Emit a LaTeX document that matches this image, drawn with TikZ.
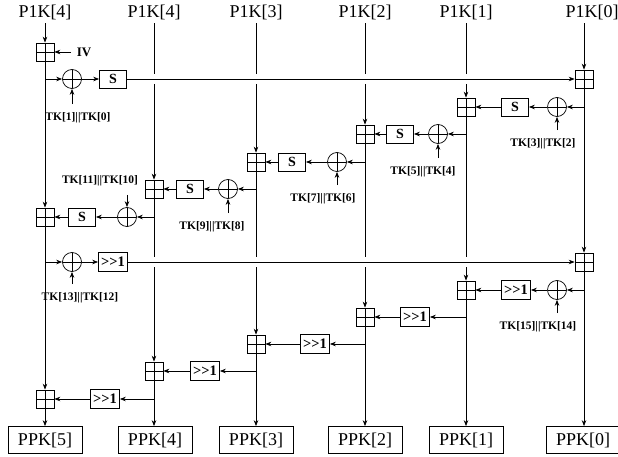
\documentclass[tikz,border=0pt]{standalone}
\usepackage{fontspec}
\setmainfont{Liberation Serif}
\usetikzlibrary{arrows.meta}

\tikzset{
  adder/.style={draw, minimum size=18pt, inner sep=0pt,
    path picture={\draw (path picture bounding box.north) -- (path picture bounding box.south)
      (path picture bounding box.west) -- (path picture bounding box.east);}},
  xorop/.style={adder, circle, minimum size=19pt},
  sbox/.style={draw, minimum width=27pt, minimum height=18pt, inner sep=1pt,
    font=\bfseries\fontsize{14}{14}\selectfont},
  shbox/.style={draw, minimum width=29pt, minimum height=19pt, inner sep=0.5pt,
    font=\bfseries\fontsize{14.5}{14.5}\selectfont},
  tklabel/.style={font=\bfseries\fontsize{11.5}{11.5}\selectfont},
  keylabel/.style={font=\fontsize{18}{18}\selectfont},
  outbox/.style={draw, minimum width=74pt, minimum height=27pt, inner sep=1pt,
    font=\fontsize{18}{18}\selectfont},
}

\begin{document}
\begin{tikzpicture}[x=1pt, y={(0pt,-1pt)}, line width=0.7pt, >={Stealth[length=6pt,width=4.5pt]}]
\useasboundingbox (0,0) rectangle (618,457);

\node[keylabel] (k0) at (45,12) {P1K[4]};
\node[keylabel] (k1) at (154,12) {P1K[4]};
\node[keylabel] (k2) at (256,12) {P1K[3]};
\node[keylabel] (k3) at (365,12) {P1K[2]};
\node[keylabel] (k4) at (466,12) {P1K[1]};
\node[keylabel] (k5) at (592,12) {P1K[0]};

\node[adder] (a1) at (45,52) {};
\node[adder] (a2) at (584,79) {};
\node[adder] (a3) at (466,107) {};
\node[adder] (a4) at (365,134) {};
\node[adder] (a5) at (256,162) {};
\node[adder] (a6) at (154,189) {};
\node[adder] (a7) at (45,217) {};
\node[adder] (a8) at (584,262) {};
\node[adder] (a9) at (466,290) {};
\node[adder] (a10) at (365,317) {};
\node[adder] (a11) at (256,344) {};
\node[adder] (a12) at (154,371) {};
\node[adder] (a13) at (45,399) {};

\node[xorop] (x2) at (72,79) {};
\node[xorop] (x3) at (557,107) {};
\node[xorop] (x4) at (438,134) {};
\node[xorop] (x5) at (337,162) {};
\node[xorop] (x6) at (228,189) {};
\node[xorop] (x7) at (127,217) {};
\node[xorop] (x8) at (72,262) {};
\node[xorop] (x9) at (557,290) {};

\node[sbox] (s2) at (113,79) {S};
\node[sbox] (s3) at (515,107) {S};
\node[sbox] (s4) at (400,134) {S};
\node[sbox] (s5) at (292,162) {S};
\node[sbox] (s6) at (190,189) {S};
\node[sbox] (s7) at (82,217) {S};
\node[shbox] (s8) at (113,262) {>{}>1};
\node[shbox] (s9) at (516,290) {>{}>1};
\node[shbox] (s10) at (415,317) {>{}>1};
\node[shbox] (s11) at (315,344) {>{}>1};
\node[shbox] (s12) at (205,371) {>{}>1};
\node[shbox] (s13) at (105,399) {>{}>1};

\node[font=\bfseries\fontsize{13}{13}\selectfont] (iv) at (84,52) {IV};
\node[tklabel] (t2) at (78,118) {TK[1]|{}|TK[0]};
\node[tklabel] (t3) at (543,144) {TK[3]|{}|TK[2]};
\node[tklabel] (t4) at (423,172) {TK[5]|{}|TK[4]};
\node[tklabel] (t5) at (323,199) {TK[7]|{}|TK[6]};
\node[tklabel] (t6) at (212,227) {TK[9]|{}|TK[8]};
\node[tklabel] (t7) at (100,181) {TK[11]|{}|TK[10]};
\node[tklabel] (t8) at (80,298) {TK[13]|{}|TK[12]};
\node[tklabel] (t9) at (538,327) {TK[15]|{}|TK[14]};

\node[outbox] (o5) at (45,440) {PPK[5]};
\node[outbox] (o4) at (155,440) {PPK[4]};
\node[outbox] (o3) at (256,440) {PPK[3]};
\node[outbox] (o2) at (365,440) {PPK[2]};
\node[outbox] (o1) at (466,440) {PPK[1]};
\node[outbox] (o0) at (583,440) {PPK[0]};

\draw[->] (k0) -- (a1);
\draw[->] (a1) -- (a7);
\draw[->] (a7) -- (a13);
\draw[->] (a13) -- (o5);
\draw[->] (a2 |- k5.south) -- (a2);
\draw[->] (a2) -- (a8);
\draw[->] (a8) -- (a8 |- o0.north);
\foreach \k/\a/\b/\o in {k1/a6/a12/o4, k2/a5/a11/o3, k3/a4/a10/o2, k4/a3/a9/o1}{
  \draw (\k) -- ([yshift=5pt]\a |- x2);
  \draw[->] ([yshift=-5pt]\a |- x2) -- (\a);
  \draw (\a) -- ([yshift=5pt]\a |- x8);
  \draw[->] ([yshift=-5pt]\a |- x8) -- (\b);
  \draw[->] (\b) -- (\b |- \o.north);
}

\draw[->, shorten <=2pt] (iv) -- (a1);
\draw[->] (a1 |- x2) -- (x2);
\draw[->] (x2) -- (s2);
\draw[->] (s2) -- (a2);
\draw[->] (a2 |- x3) -- (x3);
\draw[->] (x3) -- (s3);
\draw[->] (s3) -- (a3);
\draw[->] (a3 |- x4) -- (x4);
\draw[->] (x4) -- (s4);
\draw[->] (s4) -- (a4);
\draw[->] (a4 |- x5) -- (x5);
\draw[->] (x5) -- (s5);
\draw[->] (s5) -- (a5);
\draw[->] (a5 |- x6) -- (x6);
\draw[->] (x6) -- (s6);
\draw[->] (s6) -- (a6);
\draw[->] (a6 |- x7) -- (x7);
\draw[->] (x7) -- (s7);
\draw[->] (s7) -- (a7);
\draw[->] (a7 |- x8) -- (x8);
\draw[->] (x8) -- (s8);
\draw[->] (s8) -- (a8);
\draw[->] (a8 |- x9) -- (x9);
\draw[->] (x9) -- (s9);
\draw[->] (s9) -- (a9);
\draw[->] (a9 |- s10) -- (s10);
\draw[->] (s10) -- (a10);
\draw[->] (a10 |- s11) -- (s11);
\draw[->] (s11) -- (a11);
\draw[->] (a11 |- s12) -- (s12);
\draw[->] (s12) -- (a12);
\draw[->] (a12 |- s13) -- (s13);
\draw[->] (s13) -- (a13);

\foreach \t/\x in {t2/x2, t3/x3, t4/x4, t5/x5, t6/x6, t8/x8, t9/x9}
  \draw[->, shorten <=5pt] (\x |- \t.north) -- (\x);
\draw[->, shorten <=5pt] (x7 |- t7.south) -- (x7);
\end{tikzpicture}
\end{document}
